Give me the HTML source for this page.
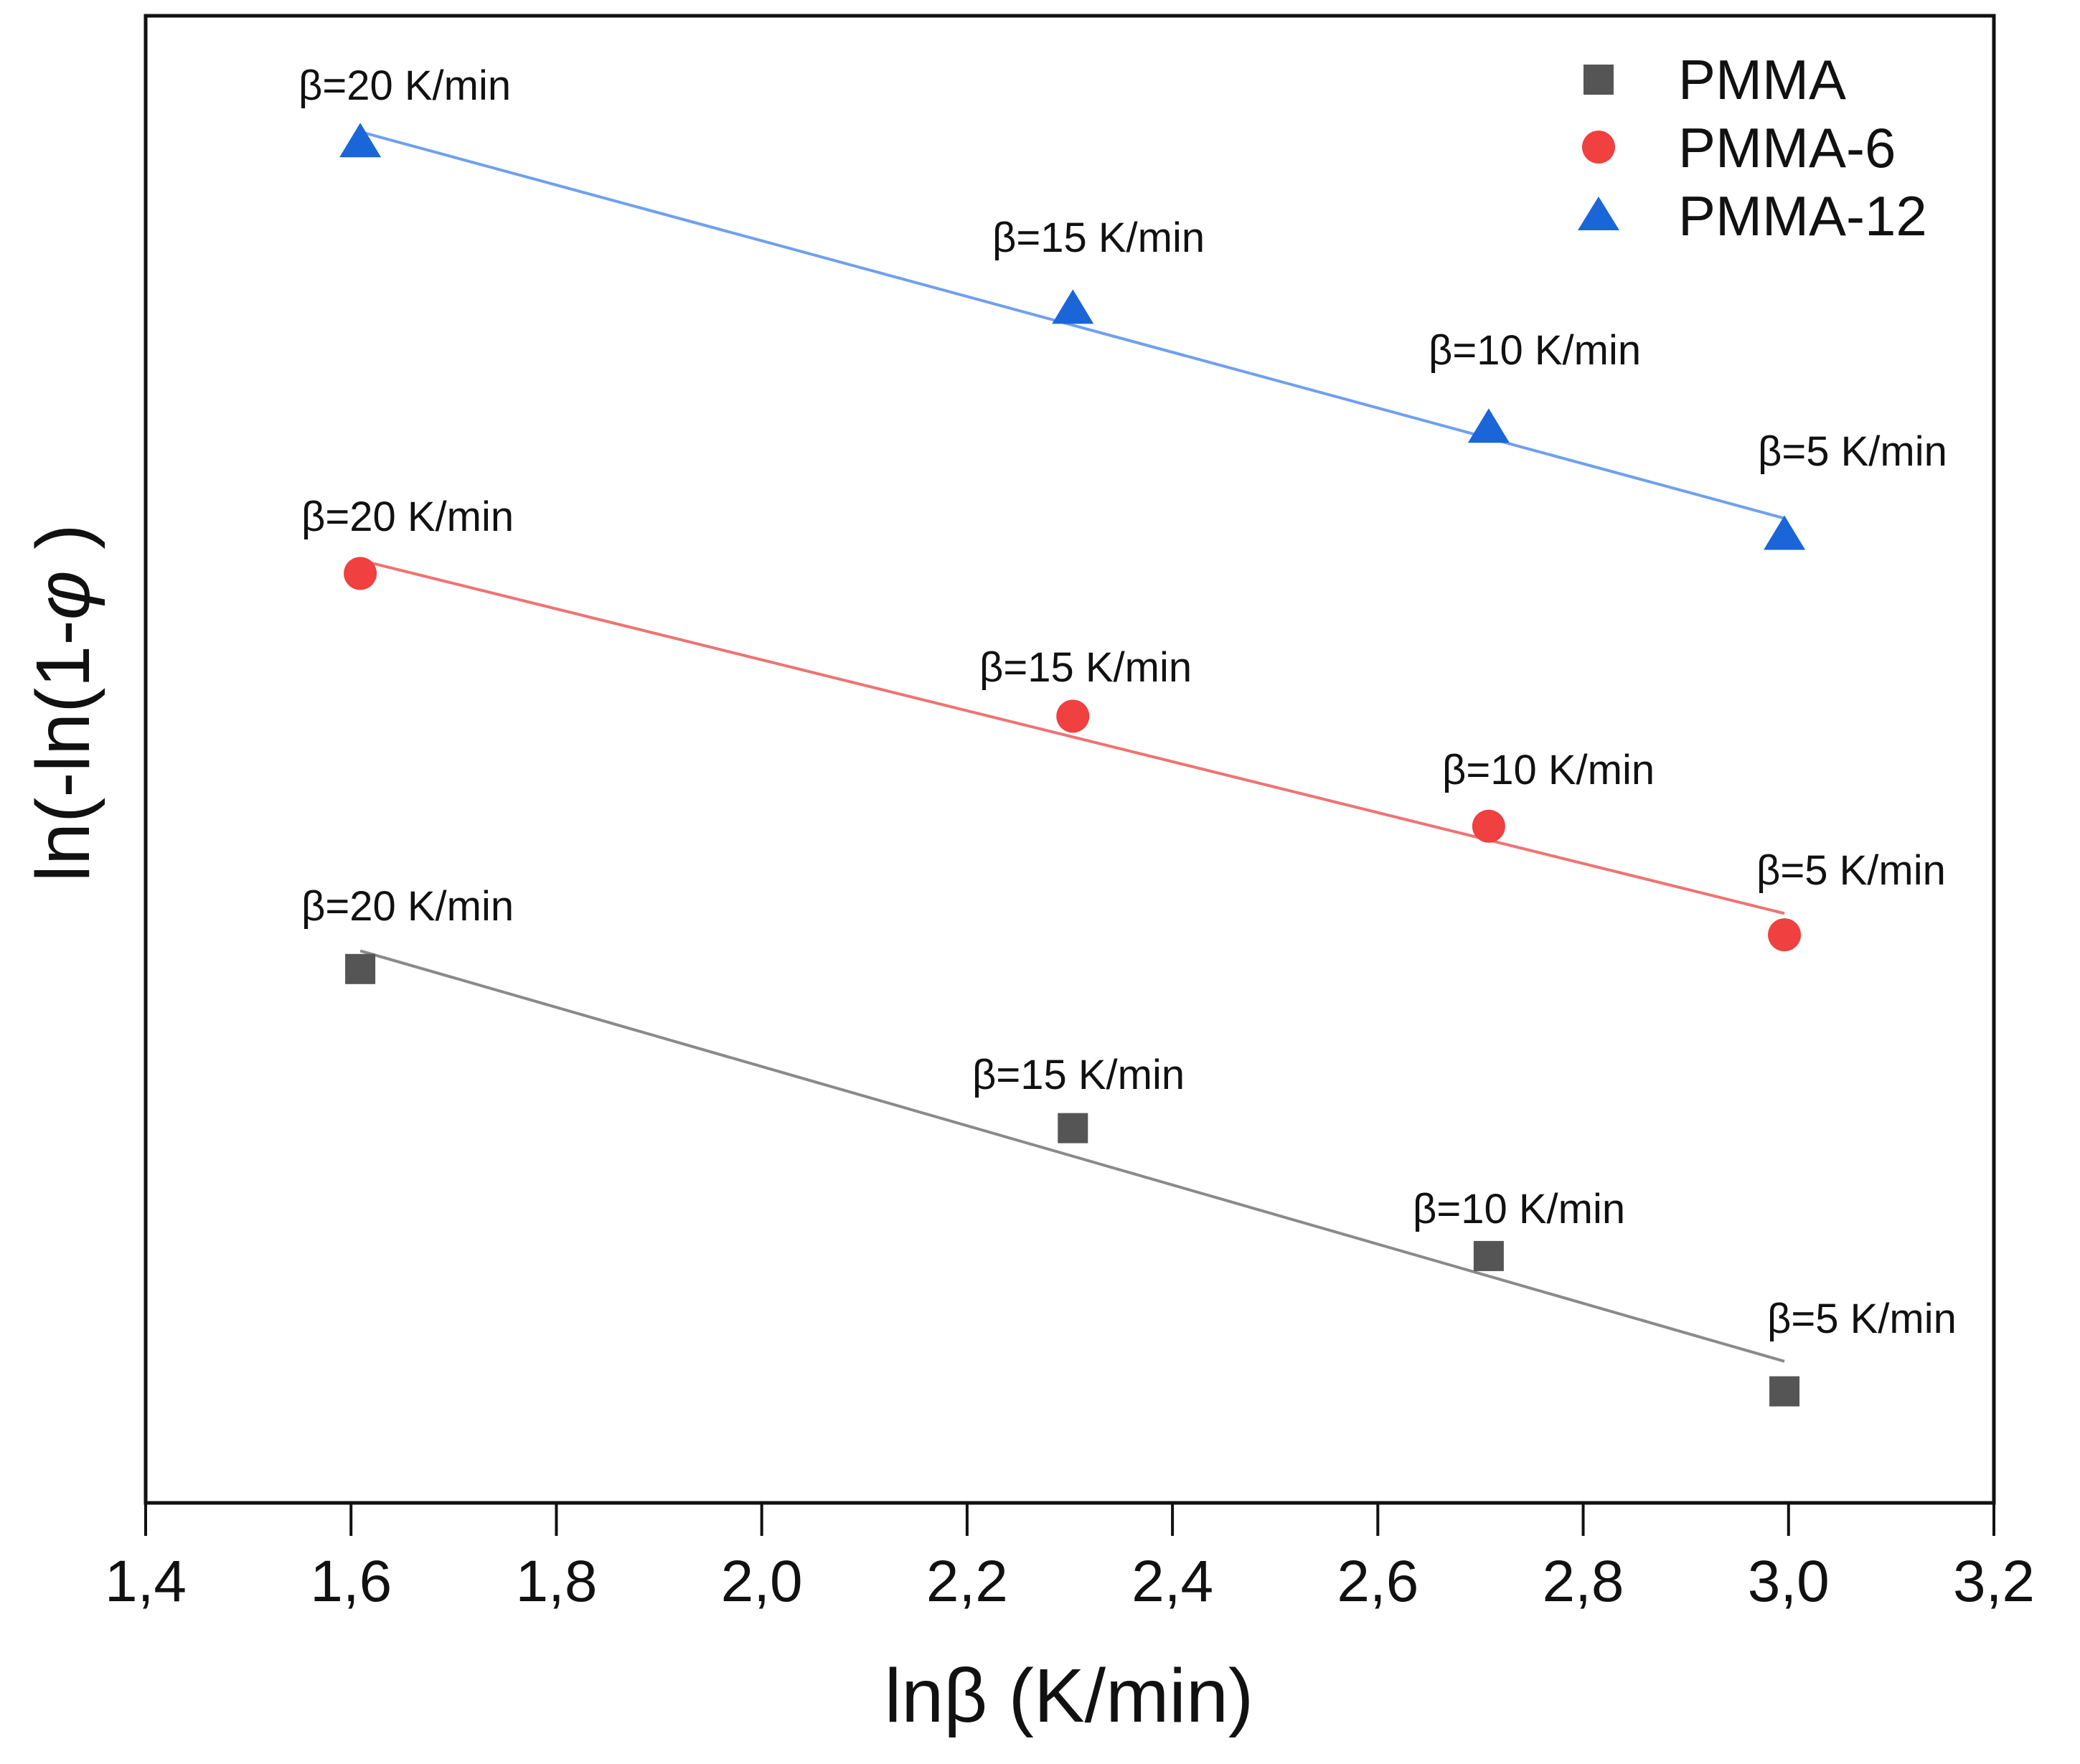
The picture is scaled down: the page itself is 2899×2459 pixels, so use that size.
<!DOCTYPE html>
<html><head><meta charset="utf-8"><style>
html,body{margin:0;padding:0;background:#fff;}
svg{display:block;font-family:"Liberation Sans",sans-serif;}
</style></head><body>
<svg id="chart" width="2899" height="2459" viewBox="0 0 2899 2459">
<rect x="203" y="22" width="2576" height="2073" fill="none" stroke="#111" stroke-width="5"/>
<g id="xticks"></g>
<g id="series"></g>
<g id="labels" font-size="58" fill="#111">
<text x="416" y="139">β=20 K/min</text>
<text x="1383" y="351">β=15 K/min</text>
<text x="1991" y="508">β=10 K/min</text>
<text x="2450" y="649">β=5 K/min</text>
<text x="420" y="740">β=20 K/min</text>
<text x="1365" y="950">β=15 K/min</text>
<text x="2010" y="1093">β=10 K/min</text>
<text x="2448" y="1233">β=5 K/min</text>
<text x="420" y="1283">β=20 K/min</text>
<text x="1355" y="1518">β=15 K/min</text>
<text x="1969" y="1705">β=10 K/min</text>
<text x="2463" y="1858">β=5 K/min</text>
</g>
<g font-size="78" fill="#111">
<rect x="2207" y="90" width="42" height="42" fill="#555"/>
<text x="2339" y="138">PMMA</text>
<circle cx="2228" cy="205" r="23" fill="#f04040"/>
<text x="2339" y="233">PMMA-6</text>
<polygon points="2228,274 2257,321 2199,321" fill="#1a66d9"/>
<text x="2339" y="328">PMMA-12</text>
</g>
<text x="1490" y="2400" font-size="106" text-anchor="middle" fill="#111">lnβ (K/min)</text>
<text transform="translate(124,980) rotate(-90)" font-size="106" text-anchor="middle" fill="#111">ln(-ln(1-<tspan font-style="italic">φ</tspan> )</text>
</svg>
<script>
const xTicks = [1.4,1.6,1.8,2.0,2.2,2.4,2.6,2.8,3.0,3.2];
const xTickLabels = ["1,4","1,6","1,8","2,0","2,2","2,4","2,6","2,8","3,0","3,2"];
const lnBeta = [1.609,2.303,2.708,2.996];
const pmma = [3.59,2.52,1.66,0.75];
const pmma6 = [6.25,5.29,4.55,3.82];
const pmma12 = [9.15,8.03,7.23,6.51];

const NS="http://www.w3.org/2000/svg";
const X0=203,X1=2779,Y0=2095,Y1=22;
const xs=v=>X0+(v-1.4)/(3.2-1.4)*(X1-X0);
function yS(v){return Y0-v*(Y0-Y1)/10;}
function mk(t,a){const e=document.createElementNS(NS,t);for(const k in a)e.setAttribute(k,a[k]);return e;}
const gx=document.getElementById('xticks');
xTicks.forEach((t,i)=>{
  const l=mk('line',{x1:xs(t),x2:xs(t),y1:Y0,y2:Y0+46,stroke:'#111','stroke-width':4});
  
  
  gx.appendChild(l);
  const tx=mk('text',{x:xs(t),y:2232,'font-size':82,'text-anchor':'middle',fill:'#111'});
  tx.textContent=xTickLabels[i];
  
  
  gx.appendChild(tx);
});
const gs=document.getElementById('series');
function fit(xa,ya){const n=xa.length;let mx=0,my=0;for(let i=0;i<n;i++){mx+=xa[i];my+=ya[i];}mx/=n;my/=n;let sxy=0,sxx=0;for(let i=0;i<n;i++){sxy+=(xa[i]-mx)*(ya[i]-my);sxx+=(xa[i]-mx)**2;}const b=sxy/sxx;return [b,my-b*mx];}
function series(vals,name,col,lcol,shape){
  const [b,a]=fit(lnBeta,vals);
  const xa=lnBeta[0],xb=lnBeta[lnBeta.length-1];
  const ln=mk('line',{x1:xs(xa),y1:yS(a+b*xa),x2:xs(xb),y2:yS(a+b*xb),stroke:lcol,'stroke-width':4});
  
  
  gs.appendChild(ln);
  lnBeta.forEach((xv,i)=>{
    const cx=xs(xv),cy=yS(vals[i]);let e;
    if(shape==='sq')e=mk('rect',{x:cx-21,y:cy-21,width:42,height:42,fill:col});
    else if(shape==='c')e=mk('circle',{cx:cx,cy:cy,r:23,fill:col});
    else e=mk('polygon',{points:`${cx},${cy-27} ${cx+29},${cy+21} ${cx-29},${cy+21}`,fill:col});
    
    
    gs.appendChild(e);
  });
}
series(pmma,'pmma','#555','#8a8a8a','sq');
series(pmma6,'pmma6','#f04040','#f07272','c');
series(pmma12,'pmma12','#1a66d9','#6fa0ee','t');
</script>
</body></html>
